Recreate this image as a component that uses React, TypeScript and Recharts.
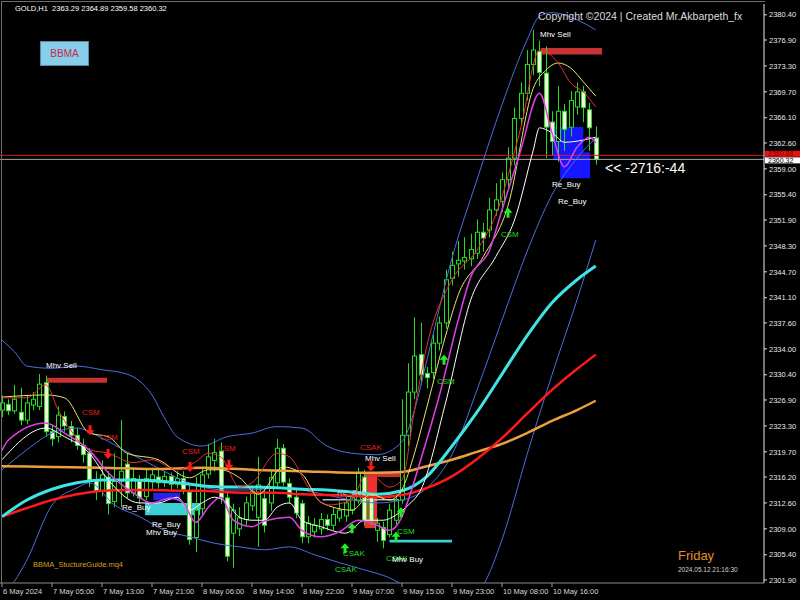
import React from 'react';
import {
  ComposedChart,
  Bar,
  Line,
  Scatter,
  XAxis,
  YAxis,
  ReferenceArea,
  ReferenceLine
} from 'recharts';

// H1 candles, 6 May 2024 -> 10 May 2024
const opens = [
  2325.5, 2326.3, 2325.4, 2325.2, 2324.1, 2326.2, 2326.0, 2329.3, 2322.5, 2321.8,
  2324.6, 2323.2, 2322.0, 2320.6, 2319.5, 2315.8, 2314.2, 2316.2, 2312.8, 2315.6,
  2318.0, 2314.0, 2315.6, 2313.5, 2315.5, 2316.2, 2315.4, 2316.3, 2315.2, 2316.0,
  2314.1, 2307.8, 2311.8, 2316.6, 2318.5, 2319.8, 2313.3, 2308.4, 2309.0, 2310.3,
  2312.2, 2310.6, 2313.2, 2312.6, 2315.4, 2320.2, 2315.3, 2313.4, 2312.5, 2307.9,
  2308.6, 2309.0, 2310.3, 2309.5, 2310.5, 2310.8, 2311.6, 2313.0, 2316.2, 2313.7,
  2308.8, 2309.2, 2308.2, 2310.2, 2313.0, 2322.0, 2328.0, 2333.2, 2330.6, 2330.7,
  2334.8, 2337.6, 2343.8, 2345.8, 2346.2, 2346.5, 2347.3, 2350.2, 2350.5, 2353.3,
  2354.5, 2357.5, 2360.5, 2366.0, 2369.5, 2373.5, 2375.3, 2372.3, 2365.5, 2362.8,
  2367.0, 2364.8, 2367.6, 2369.7, 2367.2, 2363.29
];
const highs = [
  2327.5, 2327.0, 2329.0, 2328.6, 2327.5, 2328.0, 2330.5, 2330.3, 2323.5, 2326.0,
  2325.3, 2324.0, 2323.0, 2321.5, 2320.2, 2317.0, 2318.5, 2317.0, 2319.5, 2324.1,
  2319.5, 2317.5, 2316.5, 2317.5, 2317.5, 2317.2, 2317.0, 2316.8, 2317.0, 2317.0,
  2315.0, 2316.2, 2317.5, 2320.8, 2321.5, 2321.0, 2314.0, 2312.5, 2312.0, 2313.5,
  2315.0, 2319.0, 2314.5, 2317.0, 2321.5, 2320.8, 2316.0, 2314.5, 2313.0, 2310.8,
  2310.5, 2311.2, 2311.0, 2312.0, 2312.8, 2313.5, 2314.0, 2317.5, 2317.2, 2314.0,
  2310.5, 2310.0, 2312.5, 2313.8, 2327.0, 2332.0, 2338.4, 2337.6, 2331.5, 2336.0,
  2338.5, 2345.0, 2347.5, 2349.0, 2349.5, 2350.0, 2352.0, 2351.5, 2355.0, 2357.0,
  2358.5, 2362.0, 2367.5, 2371.0, 2375.5, 2378.3, 2376.8, 2376.0, 2367.0, 2370.5,
  2368.0, 2369.8, 2371.0, 2370.5, 2368.2, 2364.89
];
const lows = [
  2324.5, 2324.8, 2325.0, 2323.4, 2323.5, 2325.5, 2325.5, 2321.8, 2320.5, 2321.0,
  2322.5, 2321.0, 2320.0, 2318.2, 2314.8, 2313.0, 2313.5, 2311.0, 2312.0, 2312.0,
  2313.2, 2313.5, 2312.5, 2313.0, 2314.5, 2314.6, 2314.8, 2314.2, 2314.6, 2313.8,
  2306.8, 2305.8, 2311.0, 2316.0, 2317.0, 2312.5, 2304.5, 2303.6, 2308.0, 2309.5,
  2311.5, 2306.5, 2308.5, 2311.5, 2314.8, 2315.0, 2312.5, 2310.5, 2307.0, 2307.0,
  2307.8, 2308.2, 2308.8, 2308.8, 2310.0, 2310.0, 2311.0, 2312.5, 2309.5, 2309.5,
  2307.2, 2306.3, 2307.8, 2309.6, 2312.5, 2320.5, 2327.0, 2329.0, 2328.5, 2329.8,
  2333.8, 2336.8, 2342.8, 2344.0, 2345.0, 2345.5, 2346.5, 2347.5, 2349.5, 2352.5,
  2353.0, 2356.5, 2359.5, 2365.0, 2368.5, 2372.0, 2370.5, 2360.5, 2360.8, 2360.0,
  2361.5, 2363.5, 2366.5, 2365.5, 2361.5, 2359.58
];
const closes = [
  2326.5, 2325.4, 2327.0, 2324.1, 2326.5, 2327.0, 2329.1, 2322.5, 2321.5, 2324.8,
  2323.3, 2322.0, 2320.6, 2319.3, 2315.8, 2314.2, 2316.5, 2312.5, 2315.6, 2317.0,
  2314.0, 2316.0, 2313.3, 2316.0, 2316.5, 2315.4, 2316.3, 2315.2, 2316.0, 2314.5,
  2307.5, 2311.6, 2316.5, 2319.0, 2319.6, 2313.3, 2305.2, 2311.6, 2310.5, 2312.6,
  2314.2, 2315.1, 2309.5, 2316.1, 2320.2, 2315.5, 2313.4, 2311.2, 2307.9, 2309.8,
  2309.5, 2310.3, 2309.5, 2311.0, 2311.6, 2312.6, 2313.3, 2316.8, 2310.2, 2310.2,
  2309.8, 2307.4, 2311.6, 2313.0, 2322.0, 2328.0, 2333.0, 2330.4, 2330.0, 2334.8,
  2337.6, 2343.6, 2345.6, 2346.3, 2346.7, 2347.8, 2350.2, 2349.4, 2353.3, 2354.7,
  2357.5, 2360.5, 2366.0, 2369.5, 2373.5, 2375.5, 2372.4, 2364.8, 2362.8, 2367.0,
  2364.5, 2368.5, 2369.7, 2367.5, 2364.7, 2360.32
];

const timeTicks = [0, 8, 16, 24, 32, 40, 48, 56, 64, 72, 80, 88];
const timeLabels = [
  '6 May 2024', '7 May 05:00', '7 May 13:00', '7 May 21:00', '8 May 06:00', '8 May 14:00',
  '8 May 22:00', '9 May 07:00', '9 May 15:00', '9 May 23:00', '10 May 08:00', '10 May 16:00'
];
const priceTicks = [
  2301.9, 2305.4, 2309.0, 2312.6, 2316.2, 2319.7, 2323.3, 2326.9, 2330.4, 2334.0, 2337.6, 2341.1,
  2344.7, 2348.3, 2351.9, 2355.4, 2359.0, 2362.6, 2366.1, 2369.7, 2373.3, 2376.9, 2380.4
];
const askPrice = 2360.88;
const bidPrice = 2360.32;

// indicator lines, [bar index, price]
const orangeMa = [[0, 2317.7], [8, 2317.6], [16, 2317.5], [24, 2317.3], [32, 2317.5], [40, 2317.2], [48, 2317.0], [56, 2316.8], [60, 2316.8], [64, 2316.9], [68, 2317.7], [72, 2318.6], [76, 2319.7], [80, 2320.8], [84, 2322.3], [88, 2324.0], [92, 2325.5], [95, 2326.8]];
const redMa = [[0, 2310.7], [4, 2311.9], [8, 2313.0], [12, 2313.8], [16, 2314.3], [20, 2314.4], [24, 2314.4], [28, 2314.3], [32, 2314.3], [36, 2314.1], [40, 2314.0], [44, 2314.0], [48, 2313.8], [52, 2313.7], [56, 2313.6], [60, 2313.4], [64, 2313.7], [68, 2314.7], [72, 2316.3], [76, 2318.7], [80, 2321.6], [84, 2325.0], [88, 2328.3], [92, 2331.2], [95, 2333.2]];
const cyanMa = [[0, 2310.7], [4, 2313.0], [8, 2314.5], [12, 2315.4], [16, 2315.8], [20, 2315.8], [24, 2315.7], [28, 2315.4], [32, 2315.0], [36, 2314.8], [40, 2314.8], [44, 2314.7], [48, 2314.5], [52, 2314.4], [56, 2314.1], [60, 2313.8], [64, 2314.3], [68, 2316.3], [72, 2320.5], [76, 2325.2], [80, 2330.5], [84, 2335.8], [88, 2340.4], [92, 2343.6], [95, 2345.5]];
const bbUpper = [[0, 2335.2], [2, 2333.6], [4, 2331.6], [8, 2331.3], [12, 2331.6], [16, 2331.1], [20, 2330.5], [24, 2327.6], [26, 2324.4], [28, 2321.8], [32, 2320.5], [36, 2321.8], [40, 2322.3], [44, 2323.2], [48, 2323.0], [52, 2320.5], [56, 2319.5], [60, 2319.3], [64, 2321.1], [66, 2325.5], [68, 2332.5], [72, 2346.6], [76, 2357.5], [80, 2367.9], [84, 2376.9], [86, 2380.2], [88, 2380.7], [92, 2379.7], [95, 2378.3]];
const bbMid = [[0, 2317.2], [4, 2320.0], [8, 2322.3], [12, 2323.0], [16, 2321.6], [20, 2319.7], [24, 2317.9], [28, 2316.1], [32, 2314.8], [36, 2314.4], [40, 2314.4], [44, 2314.7], [48, 2314.4], [52, 2313.7], [56, 2313.0], [60, 2312.6], [64, 2313.0], [68, 2314.7], [72, 2319.3], [76, 2328.3], [80, 2338.0], [84, 2347.5], [88, 2355.4], [92, 2360.5], [95, 2363.3]];
const bbLower = [[0, 2299.1], [4, 2304.7], [8, 2312.3], [12, 2314.7], [14, 2315.4], [18, 2312.3], [22, 2310.7], [26, 2308.8], [30, 2307.9], [34, 2307.0], [38, 2306.5], [42, 2306.1], [46, 2306.5], [50, 2305.4], [54, 2304.3], [58, 2303.3], [62, 2302.2], [66, 2300.2], [70, 2298.4], [74, 2299.1], [77, 2301.2], [80, 2307.5], [84, 2319.3], [88, 2330.4], [92, 2340.8], [95, 2349.1]];
const redThin = [[0, 2327.2], [4, 2327.2], [7, 2329.0], [9, 2325.5], [11, 2322.7], [14, 2320.0], [17, 2319.5], [21, 2318.2], [24, 2318.6], [28, 2317.2], [31, 2318.3], [33, 2319.5], [35, 2319.0], [38, 2314.8], [40, 2315.4], [44, 2319.5], [46, 2319.0], [49, 2314.8], [52, 2312.3], [56, 2313.0], [58, 2316.3], [59, 2316.5], [62, 2314.8], [64, 2315.8], [66, 2325.5], [68, 2334.5], [72, 2343.6], [76, 2347.7], [79, 2352.6], [83, 2364.7], [86, 2375.5], [89, 2373.7], [91, 2370.9], [93, 2369.7], [95, 2367.6]];
const yellowThin = [[0, 2327.3], [7, 2327.6], [10, 2327.2], [14, 2322.3], [17, 2321.8], [20, 2319.5], [25, 2318.6], [30, 2316.1], [33, 2317.2], [35, 2317.2], [38, 2316.1], [41, 2313.8], [45, 2317.6], [48, 2316.6], [51, 2312.7], [56, 2311.6], [59, 2313.8], [62, 2313.0], [64, 2314.5], [66, 2319.5], [68, 2326.0], [71, 2335.9], [73, 2341.5], [77, 2346.8], [81, 2354.0], [85, 2370.2], [87, 2372.7], [89, 2373.7], [91, 2373.0], [93, 2371.1], [95, 2369.1]];
const magentaThin = [[0, 2319.9], [1, 2321.3], [7, 2323.7], [10, 2322.3], [14, 2319.9], [17, 2316.8], [21, 2314.0], [24, 2312.6], [27, 2313.3], [29, 2312.6], [31, 2309.9], [33, 2312.0], [35, 2313.4], [37, 2310.2], [40, 2309.3], [42, 2310.1], [46, 2310.6], [48, 2308.8], [51, 2307.9], [54, 2308.6], [57, 2310.2], [60, 2309.5], [62, 2308.8], [64, 2310.7], [65, 2313.0], [67, 2318.6], [70, 2327.6], [73, 2338.0], [75, 2344.0], [78, 2347.7], [80, 2353.3], [83, 2361.6], [86, 2369.5], [88, 2364.0], [90, 2359.3], [92, 2362.0], [94, 2363.4], [95, 2362.6]];
const whiteThin = [[0, 2318.6], [7, 2323.0], [10, 2321.8], [14, 2319.5], [17, 2315.8], [22, 2312.6], [25, 2312.6], [28, 2313.4], [30, 2311.6], [32, 2312.6], [34, 2313.4], [36, 2312.6], [38, 2310.6], [40, 2310.2], [42, 2310.2], [44, 2312.0], [46, 2312.6], [48, 2310.2], [51, 2309.3], [55, 2308.4], [58, 2310.2], [61, 2310.2], [63, 2310.9], [65, 2312.3], [67, 2314.4], [71, 2326.6], [75, 2340.8], [79, 2346.8], [82, 2351.9], [85, 2361.6], [86, 2364.7], [88, 2364.0], [90, 2362.7], [93, 2363.0], [95, 2363.4]];

// boxes drawn by the indicator
const zones = [
  { x1: 7.2, x2: 16.8, y1: 2329.3, y2: 2330.0, color: '#c83232' },
  { x1: 86.2, x2: 96, y1: 2374.9, y2: 2375.8, color: '#c83232' },
  { x1: 58, x2: 64, y1: 2316.2, y2: 2316.9, color: '#c83232' },
  { x1: 58, x2: 60, y1: 2309.1, y2: 2316.2, color: '#ee3030' },
  { x1: 24.2, x2: 28.5, y1: 2313.0, y2: 2314.0, color: '#2424e8' },
  { x1: 22.9, x2: 31.7, y1: 2310.9, y2: 2312.6, color: '#3ccfd4' },
  { x1: 88.2, x2: 93, y1: 2360.2, y2: 2364.8, color: '#1616ff' },
  { x1: 89.3, x2: 94.1, y1: 2357.7, y2: 2361.3, color: '#1616ff' },
  { x1: 62, x2: 72, y1: 2307.1, y2: 2307.5, color: '#3ccfd4' },
  { x1: 51.3, x2: 63.5, y1: 2312.95, y2: 2313.15, color: '#a8c0e0' }
];

const notes = [
  { i: 7.04, v: 2331.3, text: 'Mhv Sell', color: '#ffffff' },
  { i: 86.08, v: 2377.3, text: 'Mhv Sell', color: '#ffffff' },
  { i: 58.08, v: 2318.4, text: 'Mhv Sell', color: '#ffffff' },
  { i: 12.8, v: 2324.8, text: 'CSM', color: '#e02020' },
  { i: 15.68, v: 2321.3, text: 'CSM', color: '#e02020' },
  { i: 28.8, v: 2319.4, text: 'CSM', color: '#e02020' },
  { i: 34.56, v: 2319.8, text: 'CSM', color: '#e02020' },
  { i: 57.28, v: 2320.0, text: 'CSAK', color: '#e02020' },
  { i: 53.6, v: 2313.7, text: 'Re_Sell', color: '#c8c8c8' },
  { i: 19.2, v: 2311.6, text: 'Re_Buy', color: '#ffffff' },
  { i: 24, v: 2309.3, text: 'Re_Buy', color: '#ffffff' },
  { i: 23.04, v: 2308.15, text: 'Mhv Buy', color: '#ffffff' },
  { i: 54.56, v: 2305.2, text: 'CSAK', color: '#22dd22' },
  { i: 53.28, v: 2303.0, text: 'CSAK', color: '#22dd22' },
  { i: 63.2, v: 2308.3, text: 'CSM', color: '#22dd22' },
  { i: 61.44, v: 2304.5, text: 'CSAK', color: '#22dd22' },
  { i: 62.4, v: 2304.4, text: 'Mhv Buy', color: '#ffffff' },
  { i: 69.6, v: 2329.1, text: 'CSM', color: '#22dd22' },
  { i: 79.84, v: 2349.5, text: 'CSM', color: '#22dd22' },
  { i: 88, v: 2356.5, text: 'Re_Buy', color: '#ffffff' },
  { i: 88.96, v: 2354.1, text: 'Re_Buy', color: '#ffffff' },
  { i: 96.48, v: 2358.4, text: '<< -2716:-44', color: '#ffffff', size: 14 }
];

const arrows = [
  { i: 14.08, v: 2322.7, dir: 1, color: '#ff1a1a' },
  { i: 16.96, v: 2319.4, dir: 1, color: '#ff1a1a' },
  { i: 30.08, v: 2317.6, dir: 1, color: '#ff1a1a' },
  { i: 36.32, v: 2317.9, dir: 1, color: '#ff1a1a' },
  { i: 59.04, v: 2317.7, dir: 1, color: '#ff1a1a' },
  { i: 56, v: 2309.1, dir: -1, color: '#22ee22' },
  { i: 54.88, v: 2306.3, dir: -1, color: '#22ee22' },
  { i: 63.84, v: 2311.3, dir: -1, color: '#22ee22' },
  { i: 63.04, v: 2307.9, dir: -1, color: '#22ee22' },
  { i: 70.72, v: 2332.5, dir: -1, color: '#22ee22' },
  { i: 80.96, v: 2352.9, dir: -1, color: '#22ee22' }
];

const candles = opens.map((o, i) => ({ i, o, h: highs[i], l: lows[i], c: closes[i] }));
const toPts = (arr: number[][]) => arr.map(([i, v]) => ({ i, v }));

const WICK = '#22dd22';
const FONT = '"Liberation Sans", Arial, sans-serif';

const Candle = (props: any) => {
  const { x, y, width, height, payload } = props;
  if (x == null || y == null || !payload) return null;
  const { o, h, l, c } = payload;
  const top = Math.min(y, y + height);
  const span = Math.abs(height);
  const k = h - l === 0 ? 0 : span / (h - l);
  const yo = top + (h - o) * k;
  const yc = top + (h - c) * k;
  const cx = Math.round(x + width / 2) + 0.5;
  const bull = c >= o;
  const bt = Math.min(yo, yc);
  const bh = Math.max(1, Math.abs(yc - yo));
  return (
    <g>
      <line x1={cx} x2={cx} y1={top} y2={top + span} stroke={WICK} strokeWidth={1} />
      <rect x={cx - 2} y={bt} width={4} height={bh} fill={bull ? '#000000' : '#f4f4dc'} stroke={WICK} strokeWidth={1} />
    </g>
  );
};

const NoteShape = (p: any) => {
  const d = p.payload || {};
  return (
    <text x={p.cx} y={p.cy} fill={d.color} fontSize={d.size || 8} fontFamily={FONT}>
      {d.text}
    </text>
  );
};

const ArrowShape = (p: any) => {
  const { cx, cy } = p;
  const d = p.payload || {};
  const s = d.dir;
  const path = `M${cx - 1.5},${cy - 5 * s} L${cx + 1.5},${cy - 5 * s} L${cx + 1.5},${cy} L${cx + 4.5},${cy} L${cx},${cy + 5 * s} L${cx - 4.5},${cy} L${cx - 1.5},${cy} Z`;
  return <path d={path} fill={d.color} />;
};

const TimeTick = (p: any) => {
  const { x, y, payload } = p;
  const idx = timeTicks.indexOf(payload.value);
  return (
    <g>
      <line x1={x} x2={x} y1={y} y2={y + 4} stroke="#a0a0a0" />
      <text x={x + 1} y={y + 11} fill="#d8d8d8" fontSize={7.5} fontFamily={FONT} textAnchor="start">
        {timeLabels[idx]}
      </text>
    </g>
  );
};

const PriceTick = (p: any) => {
  const { x, y, payload } = p;
  return (
    <g>
      <line x1={x} x2={x + 3} y1={y} y2={y} stroke="#e0e0e0" />
      <text x={x + 5} y={y + 2.7} fill="#e8e8e8" fontSize={7.5} fontFamily={FONT} textAnchor="start">
        {Number(payload.value).toFixed(2)}
      </text>
    </g>
  );
};

const PriceTag = (p: any) => {
  const { viewBox, bg, fg, text, dy } = p;
  if (!viewBox) return null;
  const { x, y, width } = viewBox;
  const cy = y + (dy || 0);
  return (
    <g>
      <rect x={x + width + 1} y={cy - 3} width={35} height={6} fill={bg} />
      <text x={x + width + 4} y={cy + 2.5} fill={fg} fontSize={7} fontFamily={FONT}>
        {text}
      </text>
    </g>
  );
};

const lineSet = [
  { data: bbUpper, color: '#4a6fe0', w: 1 },
  { data: bbMid, color: '#4a6fe0', w: 1 },
  { data: bbLower, color: '#4a6fe0', w: 1 },
  { data: orangeMa, color: '#eaa040', w: 2.5 },
  { data: redMa, color: '#ff1a1a', w: 2.5 },
  { data: cyanMa, color: '#40e4e4', w: 3 },
  { data: yellowThin, color: '#e8e870', w: 1 },
  { data: redThin, color: '#e83030', w: 1 },
  { data: whiteThin, color: '#ffffff', w: 1 },
  { data: magentaThin, color: '#e040e8', w: 1.5 }
];

export default function App() {
  return (
    <div style={{ position: 'absolute', left: 0, top: 0, width: 800, height: 600, background: '#000', overflow: 'hidden', fontFamily: FONT }}>
      <ComposedChart width={800} height={600} data={candles} margin={{ top: 4, right: 0, bottom: 0, left: 0 }}>
        <XAxis
          dataKey="i"
          type="number"
          domain={[-0.32, 121.92]}
          allowDataOverflow
          ticks={timeTicks}
          interval={0}
          height={17}
          axisLine={{ stroke: '#8c8c8c' }}
          tickLine={false}
          tickSize={0}
          tickMargin={0}
          tick={<TimeTick />}
        />
        <YAxis
          orientation="right"
          type="number"
          domain={[2301.48, 2381.9]}
          allowDataOverflow
          ticks={priceTicks}
          interval={0}
          width={36}
          axisLine={{ stroke: '#e8e8e8' }}
          tickLine={false}
          tickSize={0}
          tickMargin={0}
          tick={<PriceTick />}
        />
        {zones.map((z, k) => (
          <ReferenceArea key={k} x1={z.x1} x2={z.x2} y1={z.y1} y2={z.y2} fill={z.color} fillOpacity={1} stroke="none" />
        ))}
        <ReferenceLine y={askPrice} stroke="#d42020" label={<PriceTag bg="#e81010" fg="#8a0000" text="2360.88" dy={-1.5} />} />
        <ReferenceLine y={bidPrice} stroke="#a8a8a8" label={<PriceTag bg="#ffffff" fg="#000000" text="2360.32" dy={1} />} />
        <Bar dataKey={(d: any) => [d.l, d.h]} barSize={5} shape={<Candle />} isAnimationActive={false} />
        {lineSet.map((ln, k) => (
          <Line
            key={k}
            data={toPts(ln.data)}
            dataKey="v"
            type="monotone"
            stroke={ln.color}
            strokeWidth={ln.w}
            dot={false}
            activeDot={false}
            isAnimationActive={false}
          />
        ))}
        <Scatter data={arrows} dataKey="v" shape={ArrowShape} isAnimationActive={false} />
        <Scatter data={notes} dataKey="v" shape={NoteShape} isAnimationActive={false} />
      </ComposedChart>

      <div style={{ position: 'absolute', left: 1, top: 1, width: 763, height: 582, borderLeft: '1px solid #6e6e6e', borderTop: '1px solid #6e6e6e', pointerEvents: 'none' }} />
      <div style={{ position: 'absolute', left: 15, top: 4, color: '#ffffff', fontSize: 7.5, whiteSpace: 'nowrap' }}>
        GOLD,H1&nbsp;&nbsp;2363.29 2364.89 2359.58 2360.32
      </div>
      <div style={{ position: 'absolute', left: 40, top: 41, width: 47, height: 23, background: '#87ceeb', border: '1px solid #5a8aa0', color: '#c8284a', fontSize: 10, display: 'flex', alignItems: 'center', justifyContent: 'center' }}>
        BBMA
      </div>
      <div style={{ position: 'absolute', left: 538, top: 10, color: '#dcdcdc', fontSize: 10.5, whiteSpace: 'nowrap' }}>
        Copyright ©2024 | Created Mr.Akbarpeth_fx
      </div>
      <div style={{ position: 'absolute', left: 33, top: 560, color: '#d4a017', fontSize: 7.5, whiteSpace: 'nowrap' }}>
        BBMA_StuctureGuide.mq4
      </div>
      <div style={{ position: 'absolute', left: 678, top: 548, color: '#e0902c', fontSize: 13, whiteSpace: 'nowrap' }}>
        Friday
      </div>
      <div style={{ position: 'absolute', left: 678, top: 566, color: '#d0d0d0', fontSize: 6.5, whiteSpace: 'nowrap' }}>
        2024.05.12 21:16:30
      </div>
    </div>
  );
}
